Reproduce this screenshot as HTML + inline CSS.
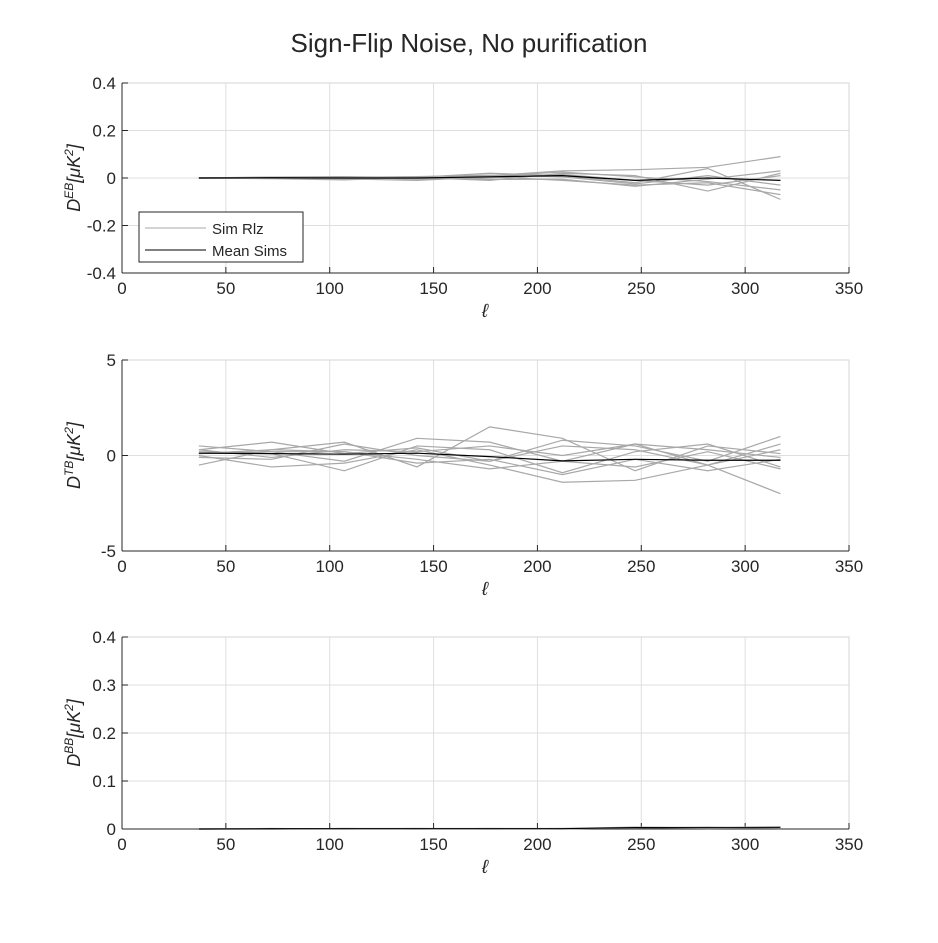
<!DOCTYPE html>
<html><head><meta charset="utf-8"><style>
body{margin:0;background:#fff;font-family:"Liberation Sans",sans-serif}
svg text{font-family:"Liberation Sans",sans-serif;fill:#262626}
</style></head><body>
<svg id="c" width="938" height="938">
<text x="469" y="52" font-size="26" text-anchor="middle">Sign-Flip Noise, No purification</text>
</svg>
<script>
const ells=[37,72,107,142,177,212,247,282,317];
const xTicks=[0,50,100,150,200,250,300,350];
const ebTicks=[-0.4,-0.2,0,0.2,0.4];
const tbTicks=[-5,0,5];
const bbTicks=[0,0.1,0.2,0.3,0.4];
const ebSims=[
[0,0.002,0.005,-0.005,0.01,0.03,0.035,0.045,0.09],
[0,-0.003,-0.008,0.003,0.02,0.01,-0.02,0.04,-0.09],
[0,0.004,0.006,0.002,-0.01,0.02,0.01,-0.055,0.02],
[0,0.001,-0.004,-0.01,0.005,-0.01,-0.03,-0.02,-0.07],
[0,-0.002,0.003,0.006,0.012,0.005,-0.025,0.01,-0.03],
[0,0.003,0.001,-0.004,0.0,0.015,-0.01,-0.03,0.01],
[0,-0.001,0.002,0.005,-0.006,-0.005,-0.035,-0.005,0.03],
[0,0.002,-0.002,0.0,0.008,0.025,0.005,-0.015,-0.05]];
const ebMean=[0,0.001,0.0,0.0,0.005,0.01,-0.01,0.0,-0.01];
const tbSims=[
[0.5,0.2,-0.3,0.9,0.7,-0.3,0.6,-0.5,-2.0],
[-0.5,0.3,0.7,-0.6,1.5,0.9,-0.8,0.5,0.1],
[0.3,0.7,0.1,0.4,-0.3,0.8,0.5,-0.3,1.0],
[0.0,-0.6,-0.4,0.3,-0.5,-1.4,-1.3,-0.5,0.6],
[0.2,0.1,-0.8,0.5,0.3,-0.9,0.2,0.6,-0.6],
[0.1,0.3,0.2,-0.2,-0.7,-0.3,-0.6,0.2,-0.7],
[-0.1,-0.2,0.6,0.0,-0.3,0.5,0.3,-0.5,0.3],
[0.3,-0.1,0.3,0.2,0.5,0.0,0.6,0.3,-0.1],
[0.1,0.2,0.2,-0.4,-0.2,-1.0,-0.2,-0.8,-0.2]];
const tbMean=[0.12,0.1,0.07,0.12,-0.06,-0.28,-0.2,-0.25,-0.25];
const bbSims=[
[0,0,0.001,0.001,0.001,0.001,0.004,0.003,0.005],
[0,0.001,0,0.001,0,0.001,0.002,0.004,0.001],
[0,0,0.001,0,0.001,0,0.003,0.001,0.002]];
const bbMean=[0,0.0005,0.0007,0.0007,0.0007,0.0007,0.003,0.0027,0.0027];
const NS="http://www.w3.org/2000/svg";
const svg=document.getElementById('c');
function mk(t,a,p){const e=document.createElementNS(NS,t);for(const k in a)e.setAttribute(k,a[k]);(p||svg).appendChild(e);return e;}
const L=122,R=849;
const X=v=>L+(v-0)/350*(R-L);
function panel(top,bot,yt,ymin,ymax,sims,mean,sup,name,fmt){
  const Y=v=>bot-(v-ymin)/(ymax-ymin)*(bot-top);
  const g=mk('g',{});
  
  
  xTicks.forEach(t=>{mk('line',{x1:X(t),x2:X(t),y1:top,y2:bot,stroke:'#dfdfdf'},g);});
  yt.forEach(t=>{mk('line',{x1:L,x2:R,y1:Y(t),y2:Y(t),stroke:'#dfdfdf'},g);});
  mk('polyline',{points:`${L},${top} ${R},${top} ${R},${bot}`,fill:'none',stroke:'#d6d6d6'},g);
  mk('line',{x1:L,x2:R,y1:bot,y2:bot,stroke:'#262626'},g);
  mk('line',{x1:L,x2:L,y1:top,y2:bot,stroke:'#262626'},g);
  xTicks.forEach(t=>{
    mk('line',{x1:X(t),x2:X(t),y1:bot,y2:bot-6,stroke:'#262626'},g);
    const tx=mk('text',{x:X(t),y:bot+21,'font-size':17,'text-anchor':'middle'},g);tx.textContent=t;
    
    });
  yt.forEach(t=>{
    mk('line',{x1:L,x2:L+6,y1:Y(t),y2:Y(t),stroke:'#262626'},g);
    const tx=mk('text',{x:L-6,y:Y(t)+6,'font-size':17,'text-anchor':'end'},g);tx.textContent=fmt(t);
    
    });
  sims.forEach(s=>{const p=mk('polyline',{points:s.map((v,i)=>X(ells[i])+','+Y(v)).join(' '),fill:'none',stroke:'#a8a8a8','stroke-width':1.2},g);
    
    });
  const m=mk('polyline',{points:mean.map((v,i)=>X(ells[i])+','+Y(v)).join(' '),fill:'none',stroke:'#000','stroke-width':1.2},g);
  
  
  const xl=mk('text',{x:485,y:bot+44,'font-size':19,'font-style':'italic','text-anchor':'middle','font-family':'Liberation Serif'},g);xl.textContent='ℓ';
  
  
  const cy=(top+bot)/2;
  const yl=mk('text',{transform:`translate(80,${cy}) rotate(-90)`,'font-size':18,'text-anchor':'middle','font-family':'Liberation Serif','font-style':'italic'},g);
  yl.innerHTML=`D<tspan font-size="12" dy="-7">${sup}</tspan><tspan dy="7">[μK</tspan><tspan font-size="12" dy="-7">2</tspan><tspan dy="7">]</tspan>`;
  
  
  return Y;
}
const f1=t=>t===0?'0':t.toFixed(1);
panel(83,273,ebTicks,-0.4,0.4,ebSims,ebMean,'EB','eb',f1);
panel(360,551,tbTicks,-5,5,tbSims,tbMean,'TB','tb',t=>String(t));
panel(637,829,bbTicks,0,0.4,bbSims,bbMean,'BB','bb',f1);
const lg=mk('g',{});


mk('rect',{x:139,y:212,width:164,height:50,fill:'#fff',stroke:'#262626'},lg);
mk('line',{x1:145,x2:206,y1:228,y2:228,stroke:'#a8a8a8'},lg);
mk('line',{x1:145,x2:206,y1:250,y2:250,stroke:'#000'},lg);
const t1=mk('text',{x:212,y:234,'font-size':15},lg);t1.textContent='Sim Rlz';


const t2=mk('text',{x:212,y:256,'font-size':15},lg);t2.textContent='Mean Sims';


</script>
</body></html>
